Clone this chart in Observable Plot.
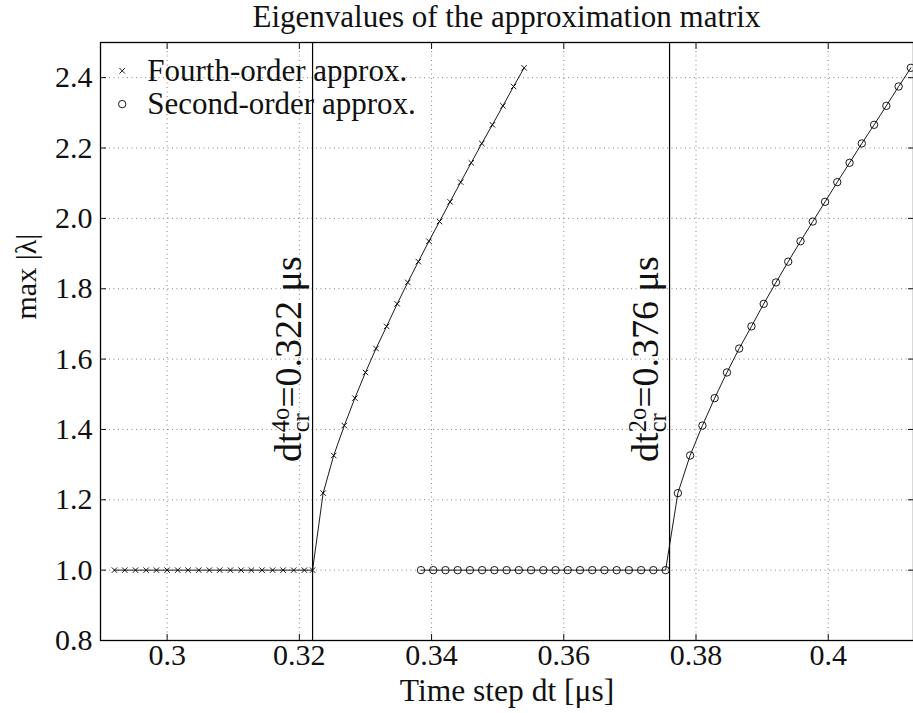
<!DOCTYPE html>
<html><head><meta charset="utf-8">
<script src="https://cdn.jsdelivr.net/npm/d3@7"></script>
<script src="https://cdn.jsdelivr.net/npm/@observablehq/plot@0.6"></script>
<style>
body{margin:0;background:#fff;}
#title{font-family:"Liberation Serif","Times New Roman",serif;font-size:31px;height:34px;line-height:34px;text-align:center;padding-left:100px;width:813px;color:#111;white-space:nowrap;}
#chart svg text{font-family:"Liberation Serif","Times New Roman",serif !important;}
</style></head><body>
<div id="title">Eigenvalues of the approximation matrix</div>
<div id="chart"></div>
<script>
const fourthDt = [0.29203,0.29359,0.29521,0.29683,0.29838,0.30000,0.30160,0.30317,0.30478,0.30639,0.30795,0.30957,0.31119,0.31274,0.31436,0.31596,0.31754,0.31914,0.32076,0.32200,
  0.3236,0.3252,0.3268,0.3284,0.3300,0.3316,0.3332,0.3348,0.3364,0.3380,0.3396,0.3412,0.3428,0.3444,0.3460,0.3476,0.3492,0.3508,0.3524,0.3540];
const fourthLambda = [1,1,1,1,1,1,1,1,1,1,1,1,1,1,1,1,1,1,1,1,
  1.219,1.326,1.411,1.489,1.562,1.630,1.693,1.757,1.818,1.877,1.935,1.991,2.047,2.103,2.158,2.213,2.266,2.320,2.375,2.428];
const secondDt = [0.3384,0.34025,0.3421,0.34395,0.3458,0.34765,0.3495,0.35135,0.3532,0.35505,0.3569,0.35875,0.3606,0.36245,0.3643,0.36615,0.368,0.36985,0.3717,0.37355,0.3754,
  0.37726,0.37911,0.38097,0.38282,0.38468,0.38653,0.38839,0.39024,0.3921,0.39395,0.39581,0.39766,0.39952,0.40137,0.40323,0.40508,0.40694,0.40879,0.41065,0.4125];
const secondLambda = [1,1,1,1,1,1,1,1,1,1,1,1,1,1,1,1,1,1,1,1,1,
  1.219,1.326,1.411,1.489,1.562,1.630,1.693,1.757,1.818,1.877,1.935,1.991,2.047,2.103,2.158,2.213,2.266,2.320,2.375,2.428];
const criticalDt = [0.322, 0.376];
const criticalOrder = ["4o", "2o"];
const criticalText = ["=0.322 μs", "=0.376 μs"];
const criticalLabelY = [1.6, 1.6];
const xTicks = [0.3, 0.32, 0.34, 0.36, 0.38, 0.4];
const xTickLabels = ["0.3", "0.32", "0.34", "0.36", "0.38", "0.4"];
const yTicks = [0.8, 1.0, 1.2, 1.4, 1.6, 1.8, 2.0, 2.2, 2.4];
const yTickLabels = ["0.8", "1.0", "1.2", "1.4", "1.6", "1.8", "2.0", "2.2", "2.4"];
const seriesNames = ["Fourth-order approx.", "Second-order approx."];
const seriesSymbols = ["times", "circle"];
const xLabel = "Time step dt [μs]";
const yLabel = "max |λ|";

const serif = '"Liberation Serif","Times New Roman",serif';
const fourth = fourthDt.map((x, i) => ({x, y: fourthLambda[i]}));
const second = secondDt.map((x, i) => ({x, y: secondLambda[i]}));
const crit = criticalDt.map((x, i) => ({x, y: criticalLabelY[i], order: criticalOrder[i], value: criticalText[i]}));
const gridStyle = {stroke: "#666", strokeOpacity: 1, strokeWidth: 0.8, strokeDasharray: "1,3.5"};
const textStyle = {fontFamily: serif, fill: "#111"};

const chart = Plot.plot({
  width: 913, height: 679,
  marginLeft: 100, marginRight: 0, marginTop: 8, marginBottom: 73,
  x: {domain: [0.28992, 0.4129]},
  y: {domain: [0.8, 2.5]},
  style: {fontFamily: serif, fontSize: "30px", color: "#111", background: "white"},
  marks: [
    Plot.gridX({ticks: xTicks, ...gridStyle}),
    Plot.gridY({ticks: yTicks, ...gridStyle}),
    Plot.ruleX(criticalDt, {stroke: "black", strokeWidth: 1.2}),
    Plot.line(fourth, {x: "x", y: "y", stroke: "black", strokeWidth: 0.9, clip: true}),
    Plot.dot(fourth, {x: "x", y: "y", symbol: "times", r: 2.6, stroke: "black", strokeWidth: 0.9, clip: true}),
    Plot.line(second, {x: "x", y: "y", stroke: "black", strokeWidth: 0.9, clip: true}),
    Plot.dot(second, {x: "x", y: "y", symbol: "circle", r: 3.7, stroke: "black", fill: "none", strokeWidth: 0.9, clip: true}),
    Plot.axisX({ticks: xTicks, tickFormat: d => xTickLabels[xTicks.indexOf(d)], tickSize: 0, tickPadding: 3, label: null, fontSize: 30, fontVariant: "normal", ...textStyle}),
    Plot.axisY({ticks: yTicks, tickFormat: d => yTickLabels[yTicks.indexOf(d)], tickSize: 0, tickPadding: 8, label: null, fontSize: 30, fontVariant: "normal", ...textStyle}),
    Plot.axisX({anchor: "bottom", ticks: xTicks, tickSize: -6, tickFormat: () => "", label: null}),
    Plot.axisX({anchor: "top", ticks: xTicks, tickSize: -6, tickFormat: () => "", label: null}),
    Plot.axisY({anchor: "left", ticks: yTicks, tickSize: -6, tickFormat: () => "", label: null}),
    Plot.axisY({anchor: "right", ticks: yTicks, tickSize: -6, tickFormat: () => "", label: null}),
    Plot.text(crit, {x: "x", y: "y", text: d => "dt" + d.order + d.value, rotate: -90, textAnchor: "middle", lineAnchor: "middle", dx: -23.5, fontSize: 38, ...textStyle}),
    ...seriesNames.flatMap((name, i) => [
      Plot.dot([name], {frameAnchor: "top-left", dx: 21.7, dy: 28.3 + i * 33.3, symbol: seriesSymbols[i], r: i ? 3.7 : 2.6, stroke: "black", fill: "none", strokeWidth: 0.9}),
      Plot.text([name], {frameAnchor: "top-left", dx: 46.7, dy: 28.3 + i * 33.3, text: d => d, textAnchor: "start", lineAnchor: "middle", fontSize: 31, ...textStyle})
    ]),
    Plot.text([xLabel], {frameAnchor: "bottom", dy: 50, text: d => d, lineAnchor: "middle", fontSize: 31.5, ...textStyle}),
    Plot.text([yLabel], {frameAnchor: "left", dx: -74, dy: -22, text: d => d, rotate: -90, lineAnchor: "middle", fontSize: 30, ...textStyle}),
    Plot.frame({stroke: "black", strokeWidth: 1.3})
  ]
});
document.getElementById("chart").appendChild(chart);

// rebuild the critical labels with subscript "cr" and superscript order
const NS = "http://www.w3.org/2000/svg";
const critTexts = Array.from(chart.querySelectorAll("text")).filter(t => /^dt[24]o=/.test(t.textContent));
critTexts.forEach(t => {
  const i = criticalOrder.indexOf(t.textContent.slice(2, 4));
  t.textContent = "";
  const add = (s, attrs) => {
    const ts = document.createElementNS(NS, "tspan");
    ts.textContent = s;
    for (const k in attrs) ts.setAttribute(k, attrs[k]);
    t.appendChild(ts);
  };
  add("dt", {});
  add("cr", {"font-size": 24.5, dy: 8});
  add(criticalOrder[i], {"font-size": 24.5, dx: -19, dy: -20});
  add(criticalText[i], {dy: 12});
});
</script>
</body></html>
